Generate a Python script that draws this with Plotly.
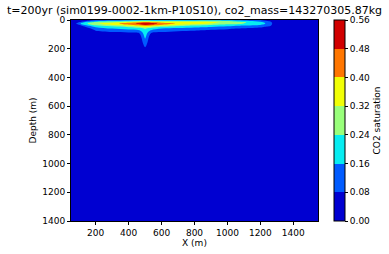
import plotly.graph_objects as go

# grid nodes
x_nodes = [50, 90, 120, 150, 200, 300, 400, 460, 500, 540, 600, 700, 800, 900, 1000, 1100, 1200, 1260, 1290, 1550]
depth_nodes = [0, 8, 16, 24, 32, 40, 50, 60, 72, 84, 100, 130, 160, 190, 210, 1400]

# CO2 saturation per depth row (columns follow x_nodes)
sat = [
    [0, 0.00, 0.00, 0.04, 0.08, 0.10, 0.12, 0.12, 0.13, 0.12, 0.12, 0.14, 0.14, 0.14, 0.13, 0.11, 0.08, 0.03, 0, 0],
    [0, 0.00, 0.06, 0.10, 0.16, 0.20, 0.24, 0.26, 0.28, 0.27, 0.25, 0.26, 0.27, 0.28, 0.25, 0.20, 0.14, 0.07, 0, 0],
    [0, 0.06, 0.14, 0.20, 0.26, 0.30, 0.36, 0.40, 0.44, 0.42, 0.38, 0.36, 0.35, 0.34, 0.30, 0.25, 0.18, 0.11, 0, 0],
    [0, 0.10, 0.20, 0.24, 0.31, 0.37, 0.44, 0.50, 0.56, 0.52, 0.45, 0.39, 0.36, 0.32, 0.28, 0.24, 0.19, 0.13, 0, 0],
    [0, 0.07, 0.16, 0.22, 0.28, 0.34, 0.41, 0.46, 0.51, 0.48, 0.41, 0.34, 0.30, 0.26, 0.23, 0.20, 0.17, 0.12, 0, 0],
    [0, 0.00, 0.09, 0.14, 0.22, 0.27, 0.32, 0.36, 0.40, 0.37, 0.31, 0.26, 0.23, 0.20, 0.18, 0.15, 0.13, 0.09, 0, 0],
    [0, 0.00, 0.03, 0.09, 0.16, 0.20, 0.24, 0.27, 0.32, 0.27, 0.22, 0.19, 0.17, 0.15, 0.13, 0.11, 0.09, 0.05, 0, 0],
    [0, 0.00, 0.00, 0.05, 0.12, 0.16, 0.18, 0.20, 0.25, 0.20, 0.16, 0.14, 0.12, 0.10, 0.09, 0.07, 0.05, 0.00, 0, 0],
    [0, 0.00, 0.00, 0.00, 0.09, 0.12, 0.14, 0.15, 0.22, 0.15, 0.12, 0.10, 0.09, 0.07, 0.06, 0.04, 0.00, 0.00, 0, 0],
    [0, 0.00, 0.00, 0.00, 0.05, 0.08, 0.09, 0.10, 0.21, 0.10, 0.08, 0.06, 0.05, 0.00, 0.00, 0.00, 0.00, 0.00, 0, 0],
    [0, 0.00, 0.00, 0.00, 0.00, 0.00, 0.03, 0.04, 0.20, 0.04, 0.02, 0.00, 0.00, 0.00, 0.00, 0.00, 0.00, 0.00, 0, 0],
    [0, 0.00, 0.00, 0.00, 0.00, 0.00, 0.00, 0.00, 0.16, 0.00, 0.00, 0.00, 0.00, 0.00, 0.00, 0.00, 0.00, 0.00, 0, 0],
    [0, 0.00, 0.00, 0.00, 0.00, 0.00, 0.00, 0.00, 0.12, 0.00, 0.00, 0.00, 0.00, 0.00, 0.00, 0.00, 0.00, 0.00, 0, 0],
    [0, 0.00, 0.00, 0.00, 0.00, 0.00, 0.00, 0.00, 0.08, 0.00, 0.00, 0.00, 0.00, 0.00, 0.00, 0.00, 0.00, 0.00, 0, 0],
    [0, 0.00, 0.00, 0.00, 0.00, 0.00, 0.00, 0.00, 0.00, 0.00, 0.00, 0.00, 0.00, 0.00, 0.00, 0.00, 0.00, 0.00, 0, 0],
    [0, 0.00, 0.00, 0.00, 0.00, 0.00, 0.00, 0.00, 0.00, 0.00, 0.00, 0.00, 0.00, 0.00, 0.00, 0.00, 0.00, 0.00, 0, 0],
]

levels = [0.00, 0.08, 0.16, 0.24, 0.32, 0.40, 0.48, 0.56]
band_colors = ["#0000d1", "#005bff", "#07edf1", "#99ff7b", "#f1ff06", "#ff7600", "#d10000"]
title_text = "t=200yr (sim0199-0002-1km-P10S10), co2_mass=143270305.87kg"

n = len(band_colors)
cscale = []
for i, c in enumerate(band_colors):
    cscale.append([i / n, c])
    cscale.append([(i + 1) / n, c])

fig = go.Figure(go.Contour(
    x=x_nodes, y=depth_nodes, z=sat,
    zmin=levels[0], zmax=levels[-1],
    colorscale=cscale,
    contours=dict(start=levels[0], end=levels[-1], size=0.08, coloring="fill", showlines=False),
    line=dict(width=0),
    colorbar=dict(
        x=1.065, xanchor="left", xpad=0, y=0.5, yanchor="middle", len=1, lenmode="fraction",
        ypad=0, thickness=11, outlinewidth=1, outlinecolor="black",
        tickvals=levels, ticktext=[f"{v:.2f}" for v in levels],
        ticks="outside", ticklen=3, tickcolor="black",
        tickfont=dict(family="DejaVu Sans", size=9, color="black"),
        title=dict(text="CO2 saturation", side="right",
                   font=dict(family="DejaVu Sans", size=9, color="black")),
    ),
))

fig.update_layout(
    width=389, height=254,
    margin=dict(l=71, r=71, t=20, b=33, autoexpand=False),
    paper_bgcolor="white", plot_bgcolor="white",
    title=dict(text=title_text, x=0.5, xanchor="center", y=0.96, yanchor="middle",
               font=dict(family="DejaVu Sans", size=11, color="black")),
    font=dict(family="DejaVu Sans", size=9, color="black"),
)
fig.update_xaxes(range=[50, 1550], tickvals=[200, 400, 600, 800, 1000, 1200, 1400],
                 ticks="outside", ticklen=3, tickcolor="black", showline=True, linecolor="black",
                 mirror=True, showgrid=False, zeroline=False,
                 title=dict(text="X (m)", font=dict(size=9), standoff=2))
fig.update_yaxes(range=[1400, 0], tickvals=[0, 200, 400, 600, 800, 1000, 1200, 1400],
                 ticks="outside", ticklen=3, tickcolor="black", showline=True, linecolor="black",
                 mirror=True, showgrid=False, zeroline=False,
                 title=dict(text="Depth (m)", font=dict(size=9), standoff=4))

fig.write_html("out.html", config={"displayModeBar": False},
               post_script="document.body.style.margin='0';document.body.style.overflow='hidden';")
